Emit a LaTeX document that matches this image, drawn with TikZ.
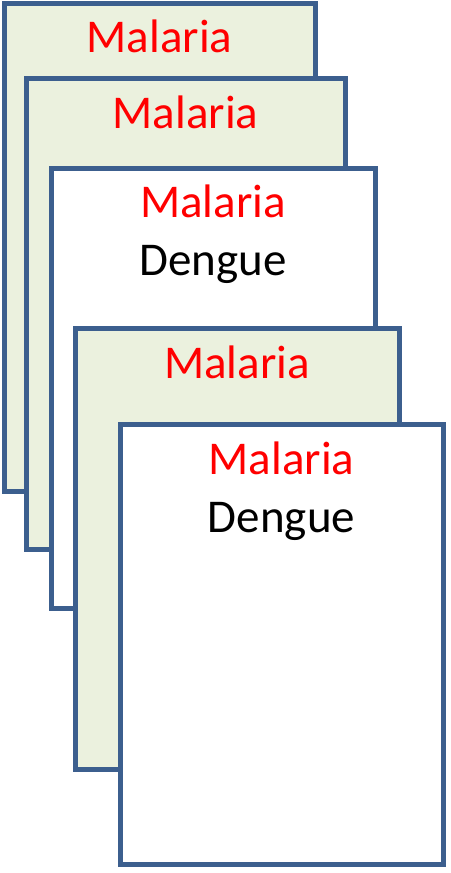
\documentclass[tikz,border=0pt]{standalone}
\usepackage{fontspec}
\setmainfont{Carlito}
\usepackage{xcolor}
\usetikzlibrary{positioning}
\definecolor{sheetblue}{HTML}{3C5F8E}
\definecolor{sheetgreen}{HTML}{EBF1DE}

\begin{document}
\begin{tikzpicture}[
    x=1pt, y=1pt,
    font=\fontsize{47}{56}\selectfont,
    sheet/.style={rectangle, draw=sheetblue, line width=5pt, fill=white, inner sep=0pt, outer sep=0pt, anchor=north west},
    greensheet/.style={sheet, fill=sheetgreen},
    diseasered/.style={text=red, anchor=base, inner sep=0pt},
    diseaseblack/.style={text=black, anchor=base, inner sep=0pt}
  ]
  \useasboundingbox (0,0) rectangle (450,-873);

  % Stacked sheets, back to front
  \node[greensheet, minimum width=311pt, minimum height=488pt] (s1) at (4,-3) {};
  \node[diseasered] (m1) at ([yshift=-49pt]s1.north) {Malaria};

  \node[greensheet, minimum width=319pt, minimum height=471pt] (s2) at (26,-78) {};
  \node[diseasered] (m2) at ([yshift=-50pt]s2.north) {Malaria};

  \node[sheet, minimum width=324pt, minimum height=440pt] (s3) at (51,-168) {};
  \node[diseasered] (m3) at ([yshift=-49pt]s3.north) {Malaria};
  \node[diseaseblack] (d3) at ([yshift=-58pt]m3.base) {Dengue};

  \node[greensheet, minimum width=324pt, minimum height=441pt] (s4) at (75,-328) {};
  \node[diseasered] (m4) at ([yshift=-50pt]s4.north) {Malaria};

  \node[sheet, minimum width=323pt, minimum height=440pt] (s5) at (120,-424) {};
  \node[diseasered] (m5) at ([yshift=-50pt]s5.north) {Malaria};
  \node[diseaseblack] (d5) at ([yshift=-58pt]m5.base) {Dengue};

\end{tikzpicture}
\end{document}
